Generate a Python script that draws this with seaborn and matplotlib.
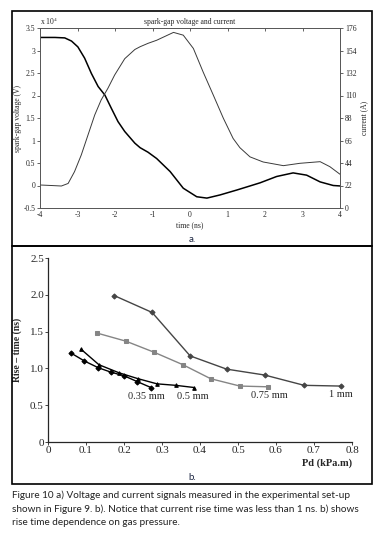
import numpy as np
import pandas as pd
import matplotlib.pyplot as plt
import matplotlib.patches as patches
import seaborn as sns

# panel a: voltage (x1e4 V) and current (A) vs time (ns)
t_volt = [-4, -3.6, -3.34, -3.16, -2.99, -2.81, -2.63, -2.45, -2.27, -2.10, -1.92, -1.74, -1.47,
          -1.33, -1.12, -0.89, -0.53, -0.18, 0.18, 0.45, 0.8, 1.25, 1.6, 1.87, 2.31, 2.75,
          3.11, 3.47, 3.82, 4]
volt = [3.29, 3.29, 3.28, 3.21, 3.08, 2.83, 2.49, 2.2, 2.01, 1.72, 1.42, 1.20, 0.94,
        0.84, 0.74, 0.60, 0.31, -0.06, -0.25, -0.28, -0.21, -0.10, -0.01, 0.06, 0.20, 0.28,
        0.23, 0.08, 0.0, -0.01]
t_curr = [-4, -3.7, -3.43, -3.25, -3.08, -2.9, -2.72, -2.54, -2.37, -2.19, -2.01, -1.74, -1.47,
          -1.33, -1.12, -0.89, -0.44, -0.18, 0.09, 0.35, 0.62, 0.89, 1.15, 1.33, 1.6, 1.95,
          2.49, 2.93, 3.47, 3.73, 4]
curr = [22.5, 22, 21.5, 24, 35.5, 51.8, 71.4, 91, 105.6, 117, 130, 146, 155,
        157.7, 161, 164, 171.7, 169, 156, 133, 110.5, 87.7, 68, 59, 50, 45,
        41.4, 43.7, 45.3, 40.4, 33]

# panel b: rise time vs Pd for four gap widths
pd_1mm = [0.174, 0.274, 0.374, 0.47, 0.57, 0.674, 0.77]
rt_1mm = [1.99, 1.76, 1.17, 0.99, 0.91, 0.77, 0.76]
pd_075 = [0.129, 0.205, 0.279, 0.355, 0.428, 0.505, 0.579]
rt_075 = [1.48, 1.37, 1.22, 1.05, 0.86, 0.76, 0.75]
pd_05 = [0.087, 0.134, 0.187, 0.237, 0.287, 0.336, 0.385]
rt_05 = [1.26, 1.05, 0.94, 0.86, 0.79, 0.77, 0.74]
pd_035 = [0.06, 0.096, 0.132, 0.165, 0.2, 0.235, 0.271]
rt_035 = [1.21, 1.10, 1.01, 0.95, 0.90, 0.82, 0.74]
gap_labels = ['0.35 mm', '0.5 mm', '0.75 mm', '1 mm']

sns.set_style('white')
plt.rcParams['font.family'] = ['Liberation Serif', 'DejaVu Serif']
plt.rcParams['mathtext.fontset'] = 'stix'
plt.rcParams['axes.unicode_minus'] = False

fig = plt.figure(figsize=(3.83, 5.40), dpi=100)

# ---- panel a ----
ax = fig.add_axes([40/383, 1-208/540, 300/383, 180/540])
volt_df = pd.DataFrame({'t': t_volt, 'v': volt})
sns.lineplot(data=volt_df, x='t', y='v', ax=ax, color='black', lw=1.1)
ax.set_xlim(-4, 4)
ax.set_ylim(-0.5, 3.5)
ax.set_xticks(range(-4, 5))
ax.set_yticks(np.arange(-0.5, 3.6, 0.5))
ax.set_yticklabels(['-0.5', '0', '0.5', '1', '1.5', '2', '2.5', '3', '3.5'])
ax.tick_params(axis='x', direction='in', labelsize=5.5, length=2.5, width=0.5, top=True, pad=2)
ax.tick_params(axis='y', direction='out', labelsize=5.5, length=2, width=0.5, pad=1.5)
ax.set_xlabel('time (ns)', fontsize=5.5, labelpad=2)
ax.set_ylabel('spark-gap voltage (V)', fontsize=5.5, labelpad=1)
ax.set_title('spark-gap voltage and current', fontsize=5.5, pad=3)
ax.text(0, 1.005, r'x 10$^4$', transform=ax.transAxes, fontsize=5.5, va='bottom')
for s in ax.spines.values():
    s.set_linewidth(0.6)
    s.set_color('#555555')

ax2 = ax.twinx()
curr_df = pd.DataFrame({'t': t_curr, 'i': curr})
sns.lineplot(data=curr_df, x='t', y='i', ax=ax2, color='#3a3a3a', lw=0.7)
ax2.set_ylim(0, 176)
ax2.set_yticks(range(0, 177, 22))
ax2.tick_params(direction='out', labelsize=5.5, length=2, width=0.5, pad=1.5)
ax2.set_ylabel('current (A)', fontsize=5.5, labelpad=3)
ax2.set_xlim(-4, 4)
for s in ax2.spines.values():
    s.set_linewidth(0.6)
    s.set_color('#555555')

# ---- panel b ----
bx = fig.add_axes([48/383, 1-442/540, 304/383, 184/540])
series = [(pd_035, rt_035, 'D', 'black'),
          (pd_05, rt_05, '^', 'black'),
          (pd_075, rt_075, 's', '#858585'),
          (pd_1mm, rt_1mm, 'D', '#454545')]
for xs, ys, mk, col in series:
    sns.lineplot(x=xs, y=ys, ax=bx, color=col, marker=mk, markersize=2.6,
                 markeredgecolor=col, lw=1.0, sort=False)
label_pos = [(0.258, 0.62), (0.382, 0.615), (0.583, 0.63), (0.772, 0.645)]
for lab, (lx, ly) in zip(gap_labels, label_pos):
    bx.text(lx, ly, lab, fontsize=7.5, ha='center', va='center')
bx.set_xlim(0, 0.8)
bx.set_ylim(0, 2.5)
bx.set_xticks(np.arange(0, 0.81, 0.1))
bx.set_xticklabels(['0', '0.1', '0.2', '0.3', '0.4', '0.5', '0.6', '0.7', '0.8'])
bx.set_yticks(np.arange(0, 2.51, 0.5))
bx.set_yticklabels(['0', '0.5', '1.0', '1.5', '2.0', '2.5'])
bx.tick_params(direction='out', labelsize=8, length=2, width=0.6, bottom=True, left=True, pad=1)
bx.spines['top'].set_visible(False)
bx.spines['right'].set_visible(False)
bx.spines['left'].set_linewidth(0.9)
bx.spines['bottom'].set_linewidth(0.9)
bx.set_ylabel('Rise – time (ns)', fontsize=7, fontweight='bold', labelpad=6)
bx.text(1.0, -0.115, 'Pd (kPa.m)', transform=bx.transAxes, fontsize=7.5,
        fontweight='bold', ha='right', va='center')

# panel frames and sub-captions
for y0, y1 in [(11, 246), (246, 484)]:
    fig.add_artist(patches.Rectangle((12/383, 1-y1/540), 360/383, (y1-y0)/540,
                                     transform=fig.transFigure, fill=False,
                                     edgecolor='black', lw=1.2))
fig.text(192/383, 1-239/540, 'a.', family=['Lato', 'DejaVu Sans'], fontsize=7,
         color='#1a2440', ha='center', va='center')
fig.text(192/383, 1-477/540, 'b.', family=['Lato', 'DejaVu Sans'], fontsize=7,
         color='#1a2440', ha='center', va='center')

caption = ('Figure 10 a) Voltage and current signals measured in the experimental set-up\n'
           'shown in Figure 9. b). Notice that current rise time was less than 1 ns. b) shows\n'
           'rise time dependence on gas pressure.')
fig.text(12/383, 1-490/540, caption, family=['Lato', 'DejaVu Sans'], fontsize=7.2,
         color='#222222', ha='left', va='top', linespacing=1.6)

fig.savefig('out.png', dpi=100)
